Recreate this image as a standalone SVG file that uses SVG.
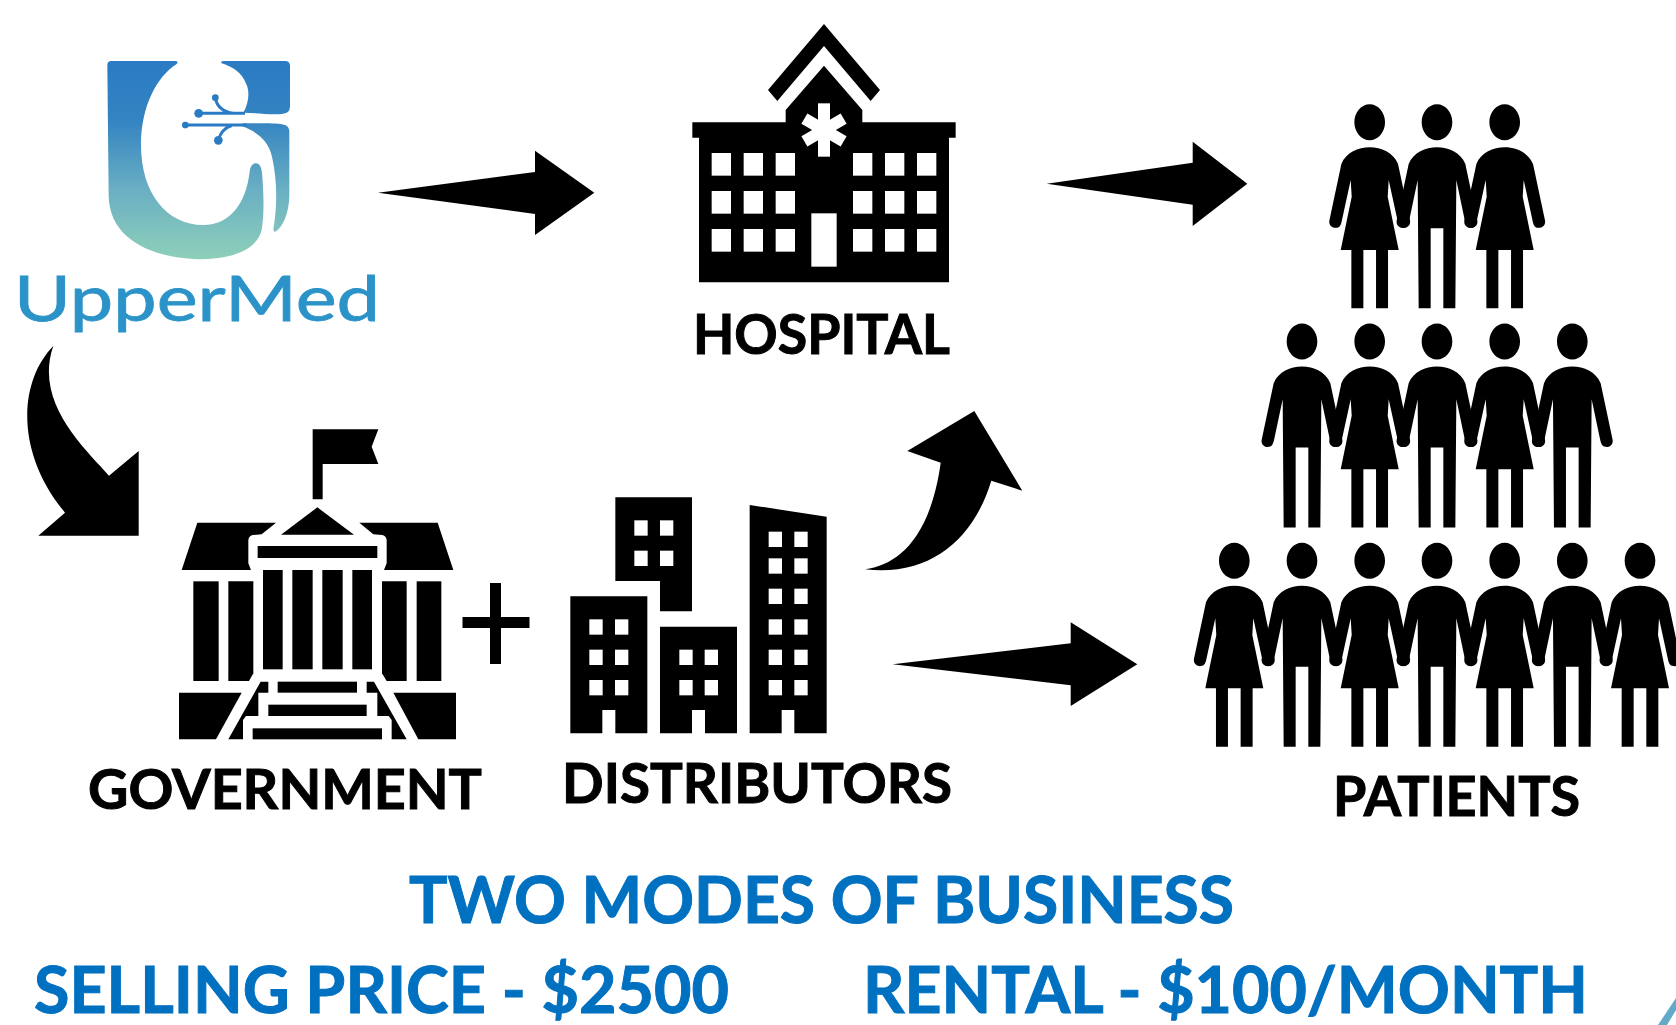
<svg xmlns="http://www.w3.org/2000/svg" xmlns:xlink="http://www.w3.org/1999/xlink" width="1676" height="1025" viewBox="0 0 1676 1025">
<style>
.lbl{font-family:"Lato","Liberation Sans",sans-serif;font-weight:700;font-size:56px;fill:#000;stroke:#000;stroke-width:1}
.blue{font-family:"Lato","Liberation Sans",sans-serif;font-weight:700;font-size:65px;fill:#0070c0;stroke:#0070c0;stroke-width:1}
.w{fill:#fff}
.k{fill:#000}
</style>
<defs>
<linearGradient id="lg" gradientUnits="userSpaceOnUse" x1="0" y1="183" x2="0" y2="778"><stop offset="0" stop-color="#2a7bc3"/><stop offset=".3" stop-color="#3484c2"/><stop offset=".65" stop-color="#6aafc3"/><stop offset="1" stop-color="#8ed0b9"/></linearGradient>
<path id="woman" d="M0,75C35,75 70,90 85,125L120,290C126,310 110,318 100,316C90,316 86,308 83,292L57,173L54,223L87,383L55,383L55,558L19,558L19,383L-19,383L-19,558L-55,558L-55,383L-87,383L-54,223L-57,173L-83,292C-86,308 -90,316 -100,316C-110,318 -126,310 -120,290L-85,125C-70,90 -35,75 0,75Z M0,-54C25,-54 46,-30 46,0C46,30 25,54 0,54C-25,54 -46,30 -46,0C-46,-30 -25,-54 0,-54Z"/>
<path id="man" d="M0,75C35,75 70,90 85,125L120,290C126,310 110,318 100,316C90,316 86,308 83,292L58,173L55,558L19,558L19,318L-19,318L-19,558L-55,558L-58,173L-83,292C-86,308 -90,316 -100,316C-110,318 -126,310 -120,290L-85,125C-70,90 -35,75 0,75Z M0,-54C25,-54 46,-30 46,0C46,30 25,54 0,54C-25,54 -46,30 -46,0C-46,-30 -25,-54 0,-54Z"/>
<path id="win4" d="M0,0h40v46h-40z"/>
</defs>
<rect width="1676" height="1025" fill="#fff"/>

<g id="connectors" fill="#000">
<path d="M378,192.7L535,172L535,150.7L594.3,192.7L535,235L535,214Z"/>
<path d="M1046.7,183.7L1192.7,162.7L1192.7,141.7L1247.3,183.7L1192.7,226L1192.7,204.7Z"/>
<path d="M892.7,664.3L1070.7,643.3L1070.7,622.3L1137.3,664.3L1070.7,706L1070.7,685.3Z"/>
<path d="M865,569.3C896.7,565 930,540 940.7,462.7L907.3,451L974.3,411L1022.3,490.7L991.3,480.7C973.3,540 930,576.7 865,569.3Z"/>
<path d="M53.3,346C20,380 13.3,450 65,512.7L38.3,535.7L138.7,535.7L138.7,451L109,475.7C86.7,450 33.3,403.3 53.3,346Z"/>
</g>

<g id="uppermed">
<g transform="scale(.33333)">
<path fill="url(#lg)" d="M322,195Q322,183 334,183L528,183Q536,185 530,192C470,230 423,320 423,435C423,580 500,675 610,675C690,675 738,610 749,515C752,495 760,490 768,490C780,490 786,505 787,530C792,600 792,650 785,690C770,750 700,778 590,778C440,770 330,710 326,590Z"/>
<path fill="url(#lg)" d="M665,190Q660,183 672,183L855,183Q870,183 870,198L870,320Q870,340 845,342C810,345 770,339 730,338C745,310 750,280 740,255C725,215 695,200 665,190Z"/>
<path fill="url(#lg)" d="M730,370C790,370 830,368 855,375Q868,380 868,395L868,590C866,640 850,680 826,695Q820,697 820,688C832,620 832,540 816,470C805,420 770,395 725,378Z"/>
<path fill="none" stroke="#2a7bc3" stroke-width="9" d="M556,375L740,375 M596,340L735,340 M646,293C650,320 670,335 700,340 M655,421C660,400 670,385 695,377"/>
<g fill="#2a7bc3"><circle cx="646" cy="293" r="10"/><circle cx="596" cy="340" r="13"/><circle cx="556" cy="375" r="10"/><circle cx="655" cy="421" r="13"/></g>
</g>
<text x="14" y="321" textLength="366" lengthAdjust="spacingAndGlyphs" font-family="Lato, 'Liberation Sans', sans-serif" font-size="62" fill="#2b93c8" stroke="#2b93c8" stroke-width=".8">UpperMed</text>
</g>

<g id="hospital">
<g transform="translate(680 10) scale(.33333)">
<path class="k" d="M432,42L600,240L572,273L432,108L292,273L264,240Z"/>
<path class="k" d="M432,167L547,300L547,337L827,337L827,383L807,383L807,817L57,817L57,383L37,383L37,337L317,337L317,300Z"/>
<g class="w">
<rect x="95" y="429" width="58" height="68"/><rect x="191" y="429" width="58" height="68"/><rect x="287" y="429" width="58" height="68"/><rect x="519" y="429" width="58" height="68"/><rect x="615" y="429" width="58" height="68"/><rect x="711" y="429" width="58" height="68"/>
<rect x="95" y="543" width="58" height="68"/><rect x="191" y="543" width="58" height="68"/><rect x="287" y="543" width="58" height="68"/><rect x="519" y="543" width="58" height="68"/><rect x="615" y="543" width="58" height="68"/><rect x="711" y="543" width="58" height="68"/>
<rect x="95" y="657" width="58" height="68"/><rect x="191" y="657" width="58" height="68"/><rect x="287" y="657" width="58" height="68"/><rect x="519" y="657" width="58" height="68"/><rect x="615" y="657" width="58" height="68"/><rect x="711" y="657" width="58" height="68"/>
<rect x="394" y="610" width="76" height="160"/>
<rect x="414" y="280" width="36" height="160"/><rect x="414" y="292" width="36" height="136" transform="rotate(60 432 360)"/><rect x="414" y="292" width="36" height="136" transform="rotate(-60 432 360)"/>
</g>
</g>
<text class="lbl" x="693" y="354" textLength="257" lengthAdjust="spacingAndGlyphs">HOSPITAL</text>
</g>

<g id="government">
<g transform="translate(170 420) scale(.33333)" class="k">
<path d="M428,28L625,28L605,80L625,132L458,132L458,238L428,238Z"/>
<path d="M442,262L552,344L333,344Z"/>
<path d="M82,308L318,308L275,343L248,345Q235,348 235,362L235,430L243,450L35,450Z"/>
<path d="M568,308L803,308L850,450L642,450L650,430L650,362Q650,348 637,345L610,343Z"/>
<rect x="263" y="378" width="359" height="36"/>
<rect x="279" y="450" width="59" height="298"/><rect x="367" y="450" width="61" height="298"/><rect x="457" y="450" width="61" height="298"/><rect x="547" y="450" width="59" height="298"/>
<rect x="70" y="484" width="76" height="299"/><path d="M175,484L250,484L250,760L237,783L175,783Z"/>
<path d="M636,484L710,484L710,783L650,783L636,760Z"/><rect x="740" y="484" width="74" height="299"/>
<rect x="323" y="785" width="238" height="33"/><rect x="295" y="854" width="295" height="34"/><rect x="248" y="925" width="388" height="33"/>
<path d="M272,785L295,785L295,818L265,818L265,888L228,888L219,900L219,958L175,958Z"/>
<path d="M612,785L590,785L590,818L622,818L622,888L656,888L665,900L665,958L710,958Z"/>
<path d="M27,818L215,818L138,958L27,958Z"/><path d="M670,818L858,818L858,958L745,958Z"/>
</g>
<text class="lbl" x="88" y="809" textLength="394" lengthAdjust="spacingAndGlyphs">GOVERNMENT</text>
</g>

<g id="plus" class="k"><rect x="462.500" y="617" width="67" height="11"/><rect x="490" y="583" width="11" height="81"/></g>

<g id="distributors">
<g transform="translate(560 480) scale(.33333)">
<path class="k" d="M166,52L396,52L396,394L300,394L300,303L166,303Z"/>
<path class="k" d="M31,349L262,349L262,760L166,760L166,690L127,690L127,760L31,760Z"/>
<path class="k" d="M300,440L531,440L531,760L435,760L435,690L396,690L396,760L300,760Z"/>
<path class="k" d="M569,75L800,110L800,760L703,760L703,690L665,690L665,760L569,760Z"/>
<g class="w">
<use href="#win4" x="223" y="121"/><use href="#win4" x="300" y="121"/><use href="#win4" x="223" y="212"/><use href="#win4" x="300" y="212"/>
<use href="#win4" x="88" y="418"/><use href="#win4" x="165" y="418"/><use href="#win4" x="88" y="509"/><use href="#win4" x="165" y="509"/><use href="#win4" x="88" y="600"/><use href="#win4" x="165" y="600"/>
<use href="#win4" x="358" y="509"/><use href="#win4" x="434" y="509"/><use href="#win4" x="358" y="600"/><use href="#win4" x="434" y="600"/>
<use href="#win4" x="626" y="155"/><use href="#win4" x="703" y="155"/><use href="#win4" x="626" y="235"/><use href="#win4" x="703" y="235"/><use href="#win4" x="626" y="326"/><use href="#win4" x="703" y="326"/><use href="#win4" x="626" y="418"/><use href="#win4" x="703" y="418"/><use href="#win4" x="626" y="509"/><use href="#win4" x="703" y="509"/><use href="#win4" x="626" y="600"/><use href="#win4" x="703" y="600"/>
</g>
</g>
<text class="lbl" x="562" y="803" textLength="390" lengthAdjust="spacingAndGlyphs">DISTRIBUTORS</text>
</g>

<g id="patients" class="k">
<use href="#woman" transform="translate(1369.700 122.300) scale(.33333)"/>
<use href="#man" transform="translate(1437 122.300) scale(.33333)"/>
<use href="#woman" transform="translate(1504.700 122.300) scale(.33333)"/>
<use href="#man" transform="translate(1302 341.500) scale(.33333)"/>
<use href="#woman" transform="translate(1369.700 341.500) scale(.33333)"/>
<use href="#man" transform="translate(1437 341.500) scale(.33333)"/>
<use href="#woman" transform="translate(1504.700 341.500) scale(.33333)"/>
<use href="#man" transform="translate(1572.300 341.500) scale(.33333)"/>
<use href="#woman" transform="translate(1234.300 560.700) scale(.33333)"/>
<use href="#man" transform="translate(1302 560.700) scale(.33333)"/>
<use href="#woman" transform="translate(1369.700 560.700) scale(.33333)"/>
<use href="#man" transform="translate(1437 560.700) scale(.33333)"/>
<use href="#woman" transform="translate(1504.700 560.700) scale(.33333)"/>
<use href="#man" transform="translate(1572.300 560.700) scale(.33333)"/>
<use href="#woman" transform="translate(1640 560.700) scale(.33333)"/>
<text class="lbl" x="1333" y="816" textLength="247" lengthAdjust="spacingAndGlyphs">PATIENTS</text>
</g>

<g id="caption">
<text class="blue" x="409" y="923" textLength="825" lengthAdjust="spacingAndGlyphs">TWO MODES OF BUSINESS</text>
<text class="blue" x="34" y="1013" textLength="695" lengthAdjust="spacingAndGlyphs">SELLING PRICE - $2500</text>
<text class="blue" x="863" y="1013" textLength="725" lengthAdjust="spacingAndGlyphs">RENTAL - $100/MONTH</text>
</g>
<path id="corner" d="M1658,1025L1676,998L1676,1010L1667,1025Z" fill="#63a9c8"/>
</svg>
